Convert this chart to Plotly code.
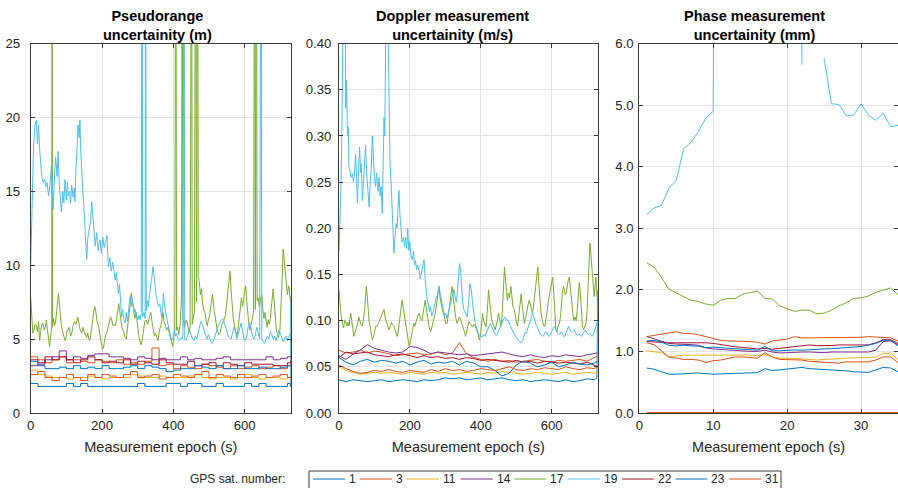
import plotly.graph_objects as go

# ---------------- data ----------------
SATS = ["1", "3", "11", "14", "17", "19", "22", "23", "31"]
SAT_COLORS = ["#0072BD", "#D95319", "#EDB120", "#7E2F8E", "#77AC30",
              "#4DBEEE", "#A2142F", "#0072BD", "#D95319"]

# common epoch grid (s) for the low, flat series
epoch_low = [0, 20, 40, 60, 80, 100, 120, 140, 160, 180, 200, 220, 240, 260, 280,
             300, 320, 340, 360, 380, 400, 420, 440, 460, 480, 500, 520, 540, 560,
             580, 600, 620, 640, 660, 680, 700, 720, 730]
epoch_s1 = [0, 20, 40, 60, 80, 100, 120, 140, 160, 180, 200, 220, 240, 260, 280,
            300, 320, 340, 360, 380, 400, 420, 440, 460, 480, 500, 520, 540, 560,
            580, 600, 620, 640, 660, 680, 700, 720, 728, 730]

# --- Pseudorange uncertainty (m) ---
pr_1 = [2.0, 1.8, 1.8, 1.8, 1.8, 2.0, 1.8, 2.0, 1.8, 1.8, 1.8, 1.8, 1.8, 1.8, 1.8, 2.0, 1.8, 1.8, 1.8,
        2.0, 2.0, 1.8, 2.0, 2.0, 1.8, 1.8, 2.0, 1.8, 1.8, 1.8, 2.0, 1.8, 2.0, 1.8, 1.8, 1.8, 2.0, 1.8, 7.9]
pr_3 = [3.8, 3.6, 3.4, 3.6, 3.8, 3.4, 3.6, 3.5, 3.4, 3.6, 3.5, 3.4, 3.6, 3.3, 3.4, 3.3, 3.5, 4.4, 3.2,
        3.3, 3.0, 3.2, 3.1, 3.0, 3.3, 3.2, 3.1, 3.0, 3.2, 3.0, 3.1, 3.2, 3.0, 3.1, 3.2, 3.0, 3.2, 3.4]
pr_11 = [2.9, 2.6, 2.5, 2.4, 2.4, 2.3, 2.4, 2.4, 2.5, 2.4, 2.3, 2.4, 2.4, 2.4, 2.6, 2.5, 2.4, 2.4, 2.5,
         2.4, 2.4, 2.4, 2.5, 2.6, 2.4, 2.3, 2.4, 2.4, 2.3, 2.4, 2.6, 2.4, 2.3, 2.4, 2.4, 2.3, 2.4, 2.5]
pr_14 = [3.2, 3.3, 3.6, 3.8, 4.2, 3.6, 3.8, 3.7, 3.9, 4.0, 4.0, 3.8, 3.8, 3.7, 3.6, 3.8, 3.7, 3.6, 3.7,
         3.6, 3.6, 3.8, 3.6, 3.7, 3.6, 3.6, 3.7, 3.8, 3.6, 3.6, 3.6, 3.6, 3.6, 3.8, 3.6, 3.7, 3.8, 3.8]
pr_22 = [3.6, 3.4, 3.8, 3.6, 3.8, 3.6, 3.4, 3.6, 3.8, 3.6, 3.4, 3.5, 3.4, 3.6, 3.3, 3.5, 3.4, 3.3, 3.6,
         3.4, 3.3, 3.3, 3.5, 3.2, 3.3, 3.4, 3.2, 3.4, 3.3, 3.2, 3.4, 3.3, 3.3, 3.3, 3.2, 3.2, 3.4, 3.6]
pr_23 = [3.5, 3.2, 3.0, 3.0, 3.1, 3.0, 3.2, 3.0, 3.1, 3.0, 3.2, 3.0, 3.0, 3.1, 3.2, 3.0, 3.2, 3.1, 3.0,
         2.8, 2.9, 3.0, 3.0, 3.2, 3.1, 3.0, 3.2, 3.0, 3.0, 3.2, 3.0, 3.0, 3.1, 3.0, 3.0, 3.1, 3.2, 3.2]
pr_31 = [2.6, 2.8, 2.4, 2.2, 2.4, 2.6, 2.4, 2.2, 2.6, 2.4, 2.6, 2.5, 2.4, 2.6, 2.8, 2.4, 2.5, 2.6, 2.3,
         2.4, 2.6, 2.5, 2.4, 2.6, 2.8, 2.4, 2.6, 2.5, 2.4, 2.6, 2.4, 2.5, 2.6, 2.4, 2.5, 2.6, 2.4, 2.5]

pr_17_t = [0, 3, 6, 9, 12, 16, 19, 22, 25, 28, 31, 34, 38, 41, 44, 47, 50, 53, 56, 59, 60, 61, 64, 67, 70,
           74, 78, 81, 84, 86, 90, 93, 96, 99, 102, 105, 108, 112, 115, 119, 123, 127, 132, 135, 139,
           143, 147, 150, 154, 157, 160, 163, 166, 170, 174, 177, 180, 183, 186, 190, 194, 198, 201,
           204, 207, 210, 213, 217, 221, 224, 227, 231, 234, 238, 241, 244, 247, 250, 253, 256, 259,
           262, 265, 268, 271, 274, 278, 282, 285, 288, 292, 296, 299, 302, 306, 310, 313, 317, 320,
           324, 328, 333, 337, 340, 343, 347, 350, 354, 357, 361, 364, 367, 371, 374, 378, 381, 385,
           389, 392, 395, 398, 401, 404, 407, 409, 412, 415, 419, 423, 425, 427, 431, 434, 437, 441,
           444, 447, 451, 453, 456, 459, 463, 465, 468, 470, 473, 476, 479, 482, 486, 489, 492, 495,
           498, 502, 506, 510, 514, 518, 521, 524, 528, 531, 535, 539, 542, 546, 550, 555, 559, 562,
           565, 568, 572, 575, 578, 581, 584, 588, 591, 594, 597, 600, 603, 606, 609, 612, 615, 618,
           622, 625, 628, 630, 633, 635, 638, 641, 644, 648, 651, 654, 657, 660, 663, 666, 669, 672,
           676, 680, 683, 686, 689, 692, 695, 699, 702, 705, 708, 711, 714, 717, 720, 723, 725, 727, 730]
pr_17 = [7.8, 6.5, 5.4, 5.6, 6.0, 5.9, 5.5, 6.2, 4.9, 5.5, 6.0, 6.1, 5.6, 5.8, 6.3, 5.6, 5.0, 4.5, 5.2,
         5.8, 40.0, 5.8, 6.4, 5.9, 6.2, 7.0, 8.1, 7.2, 6.3, 5.9, 5.5, 5.2, 4.9, 5.1, 5.6, 5.6, 5.8,
         5.2, 5.4, 5.9, 6.2, 6.0, 6.5, 6.1, 5.6, 5.4, 5.8, 5.5, 5.3, 5.1, 5.4, 5.0, 4.9, 5.5, 6.3,
         6.9, 7.2, 6.8, 6.2, 5.9, 5.3, 4.7, 4.3, 4.4, 4.8, 5.3, 5.4, 5.8, 6.1, 6.5, 6.3, 5.9, 6.0,
         5.9, 6.4, 7.0, 7.4, 6.8, 6.2, 5.8, 5.6, 5.3, 5.1, 5.0, 5.5, 6.3, 7.2, 8.1, 7.6, 7.0, 6.4,
         6.8, 6.0, 5.4, 4.9, 4.6, 5.0, 5.8, 6.2, 6.3, 6.0, 6.5, 6.8, 6.2, 5.6, 5.2, 5.4, 5.1, 4.9,
         5.6, 5.8, 6.1, 6.8, 6.2, 5.9, 5.6, 5.8, 5.4, 5.0, 4.8, 4.5, 5.0, 5.6, 40.0, 5.6, 5.8, 5.3,
         6.0, 7.8, 40.0, 6.4, 5.8, 6.2, 6.3, 5.9, 5.5, 5.8, 40.0, 6.0, 6.3, 6.8, 40.0, 7.5, 40.0,
         9.3, 8.8, 8.0, 8.4, 7.4, 6.9, 6.8, 6.2, 5.9, 6.3, 6.6, 7.4, 8.0, 7.0, 6.4, 5.8, 5.5, 5.3,
         5.4, 5.9, 6.1, 6.3, 6.6, 7.5, 8.8, 9.6, 8.3, 7.2, 6.4, 5.8, 5.5, 5.2, 5.6, 6.2, 7.0, 7.8,
         7.2, 7.6, 8.3, 8.6, 7.5, 6.6, 6.0, 5.6, 5.9, 6.4, 6.8, 40.0, 7.0, 40.0, 7.6, 7.8, 7.2, 7.6,
         8.0, 7.0, 6.4, 6.8, 6.2, 5.8, 6.3, 6.0, 6.4, 7.4, 8.4, 7.5, 6.4, 5.6, 5.3, 5.1, 5.6, 7.0,
         9.0, 11.1, 10.2, 9.4, 8.8, 8.0, 8.6, 8.4, 7.8, 7.6]

pr_19_t = [0, 4, 8, 12, 16, 19, 22, 25, 28, 31, 35, 39, 43, 46, 50, 54, 58, 61, 63, 67, 70, 74, 77, 80,
           83, 86, 90, 93, 96, 100, 103, 105, 109, 112, 115, 119, 122, 124, 127, 130, 133, 136, 138,
           140, 142, 146, 149, 152, 155, 157, 160, 164, 168, 171, 174, 177, 181, 185, 189, 192, 195,
           198, 202, 206, 210, 214, 216, 218, 222, 226, 230, 234, 237, 240, 243, 246, 249, 252, 255,
           258, 261, 265, 268, 271, 275, 279, 282, 284, 288, 291, 293, 297, 300, 304, 307, 310, 312,
           314, 318, 321, 322, 324, 327, 330, 333, 336, 340, 343, 346, 349, 352, 355, 358, 362, 365,
           367, 370, 372, 375, 378, 381, 385, 388, 391, 395, 399, 403, 406, 409, 413, 417, 421, 424,
           427, 430, 432, 435, 438, 442, 446, 450, 454, 458, 462, 466, 470, 474, 478, 482, 486, 490,
           494, 498, 502, 506, 510, 514, 518, 522, 526, 530, 534, 538, 542, 546, 550, 554, 558, 562,
           566, 570, 574, 578, 582, 586, 590, 594, 598, 602, 606, 610, 614, 618, 622, 626, 630, 634,
           638, 642, 646, 648, 652, 656, 660, 664, 668, 672, 676, 680, 684, 688, 692, 696, 700, 704,
           708, 712, 716, 720, 724, 728, 730]
pr_19 = [10.0, 14.0, 18.0, 19.5, 19.8, 18.2, 19.5, 17.9, 16.5, 16.0, 15.6, 15.8, 15.3, 15.6, 14.7,
         15.4, 16.7, 15.0, 13.8, 16.2, 17.3, 16.0, 17.7, 15.5, 14.5, 13.6, 15.0, 14.2, 15.8, 14.4,
         15.6, 14.7, 15.0, 14.2, 15.4, 14.6, 15.2, 14.3, 16.5, 18.5, 19.5, 18.6, 19.8, 18.0, 16.7,
         15.0, 14.0, 12.7, 11.5, 10.4, 11.8, 12.5, 13.0, 14.3, 13.2, 12.0, 11.3, 12.2, 11.0, 11.5,
         11.7, 10.8, 11.9, 11.2, 11.6, 12.0, 10.8, 9.9, 10.5, 9.6, 10.2, 9.3, 9.0, 9.5, 8.6, 8.1,
         8.7, 7.4, 6.5, 7.0, 6.3, 6.1, 6.8, 6.2, 7.0, 7.9, 7.2, 7.7, 7.3, 6.8, 7.0, 6.6, 6.3, 6.6,
         6.3, 6.8, 40.0, 6.5, 6.8, 6.4, 40.0, 6.9, 7.6, 7.2, 8.0, 8.6, 9.2, 9.9, 9.3, 8.4, 7.9, 7.6,
         7.2, 7.4, 6.8, 6.5, 7.2, 8.1, 7.4, 6.8, 6.5, 6.0, 5.6, 5.2, 4.9, 5.1, 5.6, 5.2, 5.4, 5.0,
         4.9, 5.1, 5.0, 5.2, 40.0, 5.0, 4.9, 5.1, 5.3, 5.6, 5.3, 5.0, 4.9, 5.2, 5.0, 5.5, 5.9, 6.2,
         6.0, 5.6, 5.2, 5.0, 5.3, 5.0, 4.8, 4.7, 5.0, 5.4, 5.7, 5.9, 6.1, 6.3, 6.4, 6.2, 5.8, 5.5,
         5.2, 5.1, 5.0, 5.4, 5.8, 5.6, 5.0, 5.3, 5.8, 6.1, 5.6, 5.0, 4.9, 5.2, 5.9, 6.1, 5.7, 5.2,
         5.0, 5.3, 5.8, 5.4, 5.0, 40.0, 5.0, 4.8, 4.7, 5.0, 5.2, 5.0, 5.5, 5.3, 5.0, 5.2, 4.9, 5.3,
         5.6, 5.4, 5.0, 4.8, 5.0, 5.2, 4.9, 5.1, 5.4, 5.2]

# --- Doppler measurement uncertainty (m/s) ---
dp_1 = [0.036, 0.034, 0.036, 0.035, 0.034, 0.035, 0.036, 0.034, 0.035, 0.036, 0.035, 0.034, 0.036,
        0.035, 0.036, 0.038, 0.037, 0.038, 0.036, 0.037, 0.038, 0.036, 0.037, 0.038, 0.036, 0.035,
        0.036, 0.034, 0.035, 0.036, 0.035, 0.034, 0.036, 0.034, 0.035, 0.037, 0.036, 0.038, 0.133]
dp_3 = [0.068, 0.065, 0.066, 0.068, 0.065, 0.067, 0.066, 0.064, 0.062, 0.063, 0.064, 0.065, 0.063,
        0.064, 0.066, 0.063, 0.065, 0.076, 0.064, 0.060, 0.058, 0.056, 0.058, 0.056, 0.057, 0.055,
        0.056, 0.057, 0.058, 0.056, 0.055, 0.057, 0.056, 0.057, 0.058, 0.056, 0.060, 0.062]
dp_11 = [0.050, 0.046, 0.044, 0.042, 0.043, 0.044, 0.043, 0.044, 0.043, 0.042, 0.044, 0.043, 0.042,
         0.044, 0.043, 0.044, 0.042, 0.043, 0.044, 0.043, 0.042, 0.044, 0.043, 0.045, 0.044, 0.043,
         0.042, 0.043, 0.044, 0.043, 0.042, 0.043, 0.044, 0.042, 0.043, 0.044, 0.043, 0.045]
dp_14 = [0.062, 0.058, 0.064, 0.068, 0.074, 0.070, 0.068, 0.066, 0.065, 0.066, 0.072, 0.071, 0.068,
         0.064, 0.066, 0.065, 0.064, 0.063, 0.064, 0.062, 0.063, 0.064, 0.065, 0.066, 0.064, 0.062,
         0.061, 0.063, 0.061, 0.060, 0.062, 0.061, 0.063, 0.062, 0.061, 0.063, 0.064, 0.065]
dp_22 = [0.060, 0.066, 0.064, 0.065, 0.066, 0.063, 0.062, 0.061, 0.063, 0.064, 0.062, 0.060, 0.062,
         0.060, 0.061, 0.059, 0.060, 0.058, 0.060, 0.059, 0.057, 0.058, 0.057, 0.056, 0.055, 0.057,
         0.055, 0.056, 0.054, 0.056, 0.055, 0.054, 0.055, 0.054, 0.053, 0.055, 0.052, 0.050]
dp_23 = [0.060, 0.055, 0.052, 0.056, 0.058, 0.055, 0.057, 0.056, 0.054, 0.056, 0.052, 0.055, 0.057,
         0.053, 0.055, 0.054, 0.056, 0.052, 0.056, 0.054, 0.050, 0.050, 0.046, 0.040, 0.043, 0.052,
         0.056, 0.054, 0.050, 0.052, 0.055, 0.050, 0.052, 0.055, 0.053, 0.052, 0.054, 0.056]
dp_31 = [0.052, 0.048, 0.045, 0.043, 0.044, 0.046, 0.045, 0.047, 0.045, 0.044, 0.046, 0.045, 0.044,
         0.047, 0.045, 0.048, 0.046, 0.047, 0.045, 0.046, 0.048, 0.047, 0.046, 0.048, 0.050, 0.047,
         0.046, 0.048, 0.047, 0.049, 0.048, 0.047, 0.050, 0.048, 0.047, 0.049, 0.048, 0.050]

dp_17_t = [0, 3, 6, 10, 13, 16, 19, 22, 25, 28, 31, 33, 36, 39, 42, 45, 48, 52, 56, 59, 62, 66, 69, 72,
           75, 77, 80, 82, 85, 88, 91, 94, 97, 100, 104, 108, 112, 116, 120, 124, 127, 130, 134, 138,
           141, 145, 148, 152, 155, 158, 161, 164, 167, 170, 174, 178, 181, 185, 189, 192, 195, 198,
           201, 204, 208, 211, 214, 218, 222, 226, 230, 234, 238, 241, 243, 246, 249, 252, 255, 259,
           262, 266, 269, 272, 275, 279, 282, 285, 288, 291, 295, 298, 301, 305, 308, 312, 316, 319,
           322, 325, 329, 333, 337, 340, 344, 347, 350, 354, 357, 361, 364, 367, 371, 374, 377, 380,
           384, 388, 392, 396, 399, 402, 405, 408, 411, 415, 418, 422, 425, 428, 431, 434, 438, 441,
           443, 447, 450, 453, 457, 460, 463, 465, 467, 469, 472, 475, 478, 481, 485, 488, 491, 495,
           498, 501, 504, 507, 510, 514, 517, 520, 523, 527, 530, 534, 537, 541, 546, 549, 553, 557,
           561, 564, 567, 570, 574, 578, 581, 584, 588, 591, 594, 598, 601, 603, 606, 609, 612, 615,
           618, 622, 625, 628, 631, 634, 638, 641, 644, 647, 650, 653, 656, 659, 662, 666, 669, 672,
           675, 678, 681, 684, 687, 690, 693, 697, 700, 703, 706, 708, 710, 713, 716, 718, 720, 722,
           725, 727, 730]
dp_17 = [0.133, 0.115, 0.105, 0.097, 0.092, 0.100, 0.099, 0.094, 0.098, 0.094, 0.100, 0.108, 0.100,
         0.092, 0.083, 0.087, 0.090, 0.095, 0.104, 0.100, 0.096, 0.094, 0.100, 0.110, 0.126, 0.137,
         0.125, 0.110, 0.099, 0.094, 0.087, 0.079, 0.082, 0.088, 0.094, 0.094, 0.098, 0.100, 0.104,
         0.108, 0.112, 0.104, 0.098, 0.092, 0.090, 0.094, 0.098, 0.095, 0.094, 0.090, 0.087, 0.083,
         0.088, 0.096, 0.110, 0.122, 0.115, 0.104, 0.094, 0.088, 0.080, 0.072, 0.076, 0.083, 0.092,
         0.097, 0.094, 0.100, 0.105, 0.108, 0.102, 0.100, 0.108, 0.116, 0.122, 0.114, 0.105, 0.096,
         0.092, 0.088, 0.094, 0.100, 0.104, 0.108, 0.118, 0.128, 0.137, 0.126, 0.116, 0.112, 0.108,
         0.100, 0.097, 0.097, 0.104, 0.116, 0.128, 0.137, 0.126, 0.114, 0.104, 0.097, 0.100, 0.104,
         0.100, 0.097, 0.094, 0.088, 0.083, 0.090, 0.097, 0.099, 0.096, 0.094, 0.093, 0.096, 0.094,
         0.090, 0.086, 0.079, 0.083, 0.094, 0.108, 0.100, 0.096, 0.093, 0.108, 0.133, 0.122, 0.108,
         0.100, 0.097, 0.094, 0.090, 0.094, 0.100, 0.108, 0.100, 0.094, 0.104, 0.130, 0.152, 0.158,
         0.148, 0.130, 0.122, 0.130, 0.125, 0.137, 0.125, 0.115, 0.112, 0.104, 0.097, 0.094, 0.104,
         0.118, 0.129, 0.116, 0.104, 0.097, 0.104, 0.112, 0.118, 0.122, 0.114, 0.108, 0.116, 0.130,
         0.148, 0.158, 0.140, 0.120, 0.108, 0.100, 0.094, 0.094, 0.100, 0.112, 0.122, 0.129, 0.140,
         0.147, 0.147, 0.130, 0.104, 0.090, 0.088, 0.094, 0.097, 0.104, 0.118, 0.133, 0.137, 0.128,
         0.129, 0.140, 0.144, 0.147, 0.134, 0.118, 0.108, 0.100, 0.104, 0.100, 0.110, 0.130, 0.141,
         0.130, 0.112, 0.094, 0.090, 0.094, 0.097, 0.110, 0.140, 0.170, 0.184, 0.175, 0.158, 0.145,
         0.140, 0.126, 0.135, 0.147, 0.130, 0.120]

dp_19_t = [0, 3, 5, 8, 10, 12, 14, 16, 18, 19, 21, 24, 26, 28, 31, 34, 38, 41, 44, 47, 50, 52, 55, 58,
           61, 63, 66, 69, 72, 75, 78, 81, 85, 88, 91, 94, 97, 100, 103, 106, 110, 113, 116, 119, 122,
           125, 127, 129, 131, 133, 135, 137, 139, 141, 144, 147, 150, 153, 155, 158, 161, 164, 167,
           169, 172, 175, 178, 182, 185, 188, 191, 194, 197, 200, 203, 207, 210, 213, 216, 219, 222,
           226, 229, 232, 236, 240, 243, 246, 249, 252, 255, 258, 262, 266, 270, 274, 278, 282, 286,
           290, 294, 298, 301, 305, 309, 313, 317, 321, 324, 328, 331, 334, 337, 340, 343, 346, 349,
           352, 356, 359, 362, 366, 369, 371, 374, 377, 380, 383, 386, 390, 393, 396, 400, 404, 408,
           412, 415, 419, 423, 427, 430, 434, 438, 441, 445, 449, 453, 457, 461, 465, 469, 473, 476,
           480, 484, 488, 492, 495, 499, 503, 507, 511, 514, 518, 521, 525, 528, 532, 536, 540, 543,
           546, 550, 553, 557, 561, 565, 568, 572, 575, 579, 583, 587, 590, 594, 597, 601, 605, 608,
           612, 616, 620, 623, 627, 631, 634, 638, 641, 645, 648, 652, 656, 659, 663, 666, 670, 674,
           677, 681, 685, 688, 692, 696, 699, 703, 707, 711, 714, 718, 722, 725, 728, 730]
dp_19 = [0.175, 0.210, 0.238, 0.300, 0.360, 0.450, 0.410, 0.470, 0.420, 0.330, 0.360, 0.300, 0.310,
         0.267, 0.262, 0.255, 0.259, 0.250, 0.262, 0.280, 0.250, 0.227, 0.260, 0.288, 0.260, 0.270,
         0.230, 0.250, 0.275, 0.290, 0.260, 0.245, 0.223, 0.250, 0.265, 0.300, 0.270, 0.255, 0.245,
         0.260, 0.240, 0.255, 0.235, 0.245, 0.216, 0.270, 0.320, 0.300, 0.380, 0.450, 0.410, 0.460,
         0.400, 0.310, 0.270, 0.250, 0.220, 0.190, 0.173, 0.190, 0.205, 0.200, 0.225, 0.241, 0.215,
         0.200, 0.185, 0.190, 0.180, 0.190, 0.178, 0.200, 0.176, 0.185, 0.170, 0.166, 0.175, 0.160,
         0.165, 0.155, 0.160, 0.154, 0.145, 0.150, 0.158, 0.166, 0.145, 0.130, 0.122, 0.118, 0.110,
         0.115, 0.105, 0.110, 0.118, 0.125, 0.128, 0.137, 0.128, 0.120, 0.110, 0.105, 0.108, 0.102,
         0.110, 0.118, 0.122, 0.128, 0.134, 0.125, 0.120, 0.130, 0.148, 0.162, 0.155, 0.135, 0.120,
         0.112, 0.108, 0.105, 0.104, 0.120, 0.140, 0.137, 0.132, 0.118, 0.105, 0.100, 0.095, 0.090,
         0.085, 0.083, 0.084, 0.082, 0.085, 0.083, 0.086, 0.090, 0.095, 0.097, 0.094, 0.090, 0.087,
         0.085, 0.084, 0.088, 0.092, 0.094, 0.098, 0.102, 0.104, 0.100, 0.101, 0.098, 0.094, 0.090,
         0.087, 0.085, 0.082, 0.080, 0.078, 0.077, 0.076, 0.078, 0.082, 0.087, 0.086, 0.090, 0.096,
         0.100, 0.104, 0.108, 0.104, 0.098, 0.094, 0.092, 0.088, 0.085, 0.084, 0.083, 0.085, 0.088,
         0.087, 0.084, 0.083, 0.086, 0.090, 0.092, 0.094, 0.090, 0.087, 0.085, 0.085, 0.088, 0.086,
         0.083, 0.083, 0.087, 0.090, 0.094, 0.090, 0.087, 0.088, 0.090, 0.088, 0.085, 0.084, 0.086,
         0.084, 0.083, 0.086, 0.088, 0.090, 0.087, 0.085, 0.086, 0.084, 0.083, 0.085, 0.090, 0.094,
         0.097, 0.100]

# --- Phase measurement uncertainty (mm) ---
epoch_phase = [1, 2, 3, 4, 5, 6, 7, 8, 9, 10, 11, 12, 13, 14, 15, 16, 17, 18, 19, 20, 21, 22, 23, 24,
               25, 26, 27, 28, 29, 30, 31, 32, 33, 34, 35]
ph_1 = [0.73, 0.71, 0.67, 0.63, 0.63, 0.64, 0.645, 0.65, 0.64, 0.63, 0.635, 0.64, 0.645, 0.65, 0.65,
        0.655, 0.72, 0.69, 0.70, 0.71, 0.72, 0.74, 0.72, 0.715, 0.71, 0.70, 0.695, 0.685, 0.67, 0.665,
        0.66, 0.70, 0.74, 0.73, 0.67]
ph_3 = [1.24, 1.26, 1.27, 1.30, 1.32, 1.29, 1.29, 1.27, 1.24, 1.20, 1.18, 1.17, 1.17, 1.16, 1.16,
        1.15, 1.12, 1.17, 1.18, 1.20, 1.24, 1.22, 1.22, 1.22, 1.22, 1.23, 1.23, 1.23, 1.22, 1.23,
        1.24, 1.23, 1.23, 1.22, 1.17]
ph_11 = [1.01, 1.00, 0.98, 0.91, 0.93, 0.94, 0.94, 0.94, 0.94, 0.95, 0.95, 0.94, 0.95, 0.94, 0.94,
         0.93, 0.95, 0.91, 0.89, 0.89, 0.89, 0.88, 0.87, 0.86, 0.87, 0.87, 0.88, 0.89, 0.90, 0.90,
         0.90, 0.91, 0.97, 0.97, 0.87]
ph_14 = [1.24, 1.20, 1.16, 1.13, 1.12, 1.12, 1.11, 1.10, 1.06, 1.04, 1.03, 1.025, 1.02, 1.01, 1.00,
         1.00, 1.02, 0.99, 0.975, 0.98, 0.99, 0.99, 0.99, 0.98, 0.98, 0.99, 0.99, 0.98, 0.98, 0.99,
         0.99, 1.02, 1.16, 1.17, 1.11]
ph_17 = [2.44, 2.37, 2.20, 2.01, 1.95, 1.89, 1.83, 1.81, 1.77, 1.75, 1.83, 1.86, 1.86, 1.93, 1.96,
         1.98, 1.86, 1.85, 1.74, 1.69, 1.65, 1.67, 1.67, 1.61, 1.62, 1.67, 1.74, 1.79, 1.86, 1.87,
         1.90, 1.96, 2.00, 2.03, 1.92]
ph_19 = [3.22, 3.33, 3.37, 3.65, 3.78, 4.29, 4.40, 4.57, 4.79, 4.90, 30.0, 30.0, 30.0, 30.0, 30.0,
         30.0, 30.0, 30.0, 30.0, 30.0, 30.0, 5.66, None, None, 5.76, 5.02, 5.01, 4.83, 4.84, 5.02,
         4.84, 4.75, 4.87, 4.65, 4.67]
ph_22 = [1.16, 1.15, 1.14, 1.14, 1.14, 1.14, 1.15, 1.15, 1.14, 1.13, 1.11, 1.085, 1.075, 1.065, 1.05,
         1.04, 1.05, 1.035, 1.05, 1.065, 1.075, 1.09, 1.105, 1.095, 1.09, 1.095, 1.105, 1.105, 1.105,
         1.115, 1.105, 1.14, 1.19, 1.19, 1.13]
ph_23 = [1.17, 1.18, 1.15, 1.10, 1.09, 1.10, 1.09, 1.085, 1.06, 1.07, 1.06, 1.05, 1.05, 1.04, 1.03,
         1.02, 1.08, 1.01, 1.01, 1.02, 1.025, 1.02, 1.03, 1.04, 1.04, 1.045, 1.05, 1.06, 1.07, 1.08,
         1.10, 1.13, 1.18, 1.18, 1.09]
ph_31 = [1.14, 1.11, 1.01, 0.91, 0.89, 0.87, 0.87, 0.86, 0.82, 0.85, 0.86, 0.88, 0.91, 0.91, 0.90,
         0.89, 0.98, 0.91, 0.87, 0.87, 0.87, 0.86, 0.84, 0.83, 0.83, 0.81, 0.81, 0.83, 0.83, 0.83,
         0.83, 0.86, 0.91, 0.91, 0.82]
ph_zero = [0.0, 0.0, 0.0, 0.0, 0.0, 0.0, 0.0, 0.0, 0.0, 0.0, 0.0, 0.0, 0.0, 0.0, 0.0, 0.0, 0.0, 0.0,
           0.0, 0.0, 0.0, 0.0, 0.0, 0.0, 0.0, 0.0, 0.0, 0.0, 0.0, 0.0, 0.0, 0.0, 0.0, 0.0, 0.0]

PANEL_TITLES = ["Pseudorange<br>uncertainity (m)",
                "Doppler measurement<br>uncertainity (m/s)",
                "Phase measurement<br>uncertainity (mm)"]
X_LABEL = "Measurement epoch (s)"
LEGEND_LABEL = "GPS sat. number:"

# ---------------- figure ----------------
W, H = 898, 488
FONT = "Liberation Sans, Arial, Helvetica, sans-serif"
color_of = dict(zip(SATS, SAT_COLORS))

pr = {"1": (epoch_s1, pr_1), "3": (epoch_low, pr_3), "11": (epoch_low, pr_11),
      "14": (epoch_low, pr_14), "17": (pr_17_t, pr_17), "19": (pr_19_t, pr_19),
      "22": (epoch_low, pr_22), "23": (epoch_low, pr_23), "31": (epoch_low, pr_31)}
dp = {"1": (epoch_s1, dp_1), "3": (epoch_low, dp_3), "11": (epoch_low, dp_11),
      "14": (epoch_low, dp_14), "17": (dp_17_t, dp_17), "19": (dp_19_t, dp_19),
      "22": (epoch_low, dp_22), "23": (epoch_low, dp_23), "31": (epoch_low, dp_31)}
ph = {"1": ph_1, "3": ph_3, "11": ph_11, "14": ph_14, "17": ph_17, "19": ph_19,
      "22": ph_22, "23": ph_23, "31": ph_31}

fig = go.Figure()
for s in SATS:
    x, y = pr[s]
    shape = "linear" if s in ("17", "19") else "hv"
    fig.add_trace(go.Scatter(x=x, y=y, mode="lines", name=s, legendgroup=s, showlegend=False,
                             line=dict(color=color_of[s], width=1, shape=shape),
                             xaxis="x", yaxis="y"))
for s in SATS:
    x, y = dp[s]
    fig.add_trace(go.Scatter(x=x, y=y, mode="lines", name=s, legendgroup=s, showlegend=False,
                             line=dict(color=color_of[s], width=1),
                             xaxis="x2", yaxis="y2"))
for s in SATS:
    fig.add_trace(go.Scatter(x=epoch_phase, y=ph[s], mode="lines", name=s, legendgroup=s,
                             showlegend=False, connectgaps=False,
                             line=dict(color=color_of[s], width=1),
                             xaxis="x3", yaxis="y3"))
fig.add_trace(go.Scatter(x=epoch_phase, y=ph_zero, mode="lines", name="31", legendgroup="31",
                         showlegend=False, line=dict(color=color_of["31"], width=2.2),
                         xaxis="x3", yaxis="y3", cliponaxis=False))

# geometry in pixels
ytop, ybot = 43.5, 413.0
panels_px = [(30.7, 291.0), (339.0, 597.7), (639.3, 898.0)]
ydom = [(H - ybot) / H, (H - ytop) / H]

axis_common = dict(showline=True, linecolor="#3a3a3a", linewidth=1, mirror="allticks",
                   ticks="inside", ticklen=4, tickcolor="#3a3a3a", showgrid=True,
                   gridcolor="#e4e4e4", gridwidth=1, zeroline=False,
                   tickfont=dict(size=13.2, color="#262626", family=FONT))

x_ranges = [[0, 730], [0, 730], [0, 35]]
x_ticks = [[0, 200, 400, 600], [0, 200, 400, 600], [0, 10, 20, 30]]
y_ranges = [[0, 25], [0, 0.40], [0, 6.0]]
y_ticks = [[0, 5, 10, 15, 20, 25],
           [0, 0.05, 0.10, 0.15, 0.20, 0.25, 0.30, 0.35, 0.40],
           [0, 1, 2, 3, 4, 5, 6]]
y_fmt = ["d", ".2f", ".1f"]
y_standoff = [7, 4, 2]

layout = dict(width=W, height=H, margin=dict(l=0, r=0, t=0, b=0, autoexpand=False),
              paper_bgcolor="white", plot_bgcolor="white", showlegend=False,
              font=dict(family=FONT, color="#262626"))
for i in range(3):
    sx = "" if i == 0 else str(i + 1)
    l, r = panels_px[i]
    layout["xaxis" + sx] = dict(axis_common, domain=[l / W, min(r / W, 1.0)], range=x_ranges[i],
                                tickvals=x_ticks[i], anchor="y" + sx,
                                title=dict(text=X_LABEL, standoff=10,
                                           font=dict(size=14.5, color="#262626")))
    layout["yaxis" + sx] = dict(axis_common, domain=ydom, range=y_ranges[i], tickvals=y_ticks[i],
                                tickformat=y_fmt[i], anchor="x" + sx,
                                ticklabelstandoff=y_standoff[i])
fig.update_layout(**layout)

title_cx = [157, 452, 754]
for i in range(3):
    fig.add_annotation(text="<b>" + PANEL_TITLES[i] + "</b>", x=title_cx[i] / W, y=(H - 45) / H,
                       xref="paper", yref="paper", xanchor="center", yanchor="bottom",
                       showarrow=False, font=dict(size=14.5, color="#000000", family=FONT))

# ---- legend (frame, colour samples and labels), laid out in pixels ----
LEG_Y = 479.0
fig.add_annotation(text=LEGEND_LABEL, x=287 / W, y=(H - LEG_Y) / H, xref="paper", yref="paper",
                   xanchor="right", yanchor="middle", showarrow=False,
                   font=dict(size=12, color="#262626", family=FONT))
box_l, box_r, box_t = 309.0, 781.0, 471.0
fig.add_shape(type="rect", xref="paper", yref="paper", x0=box_l / W, x1=box_r / W,
              y0=(H - box_t) / H, y1=-0.08, line=dict(color="#3a3a3a", width=1),
              fillcolor="white", layer="below")
sample_len, text_gap, item_gap, digit_w = 32.0, 3.0, 5.3, 6.7
cursor = box_l + 4.0
for s in SATS:
    fig.add_shape(type="line", xref="paper", yref="paper", x0=cursor / W,
                  x1=(cursor + sample_len) / W, y0=(H - LEG_Y) / H, y1=(H - LEG_Y) / H,
                  line=dict(color=color_of[s], width=1))
    tx = cursor + sample_len + text_gap
    fig.add_annotation(text=s, x=tx / W, y=(H - LEG_Y) / H, xref="paper", yref="paper",
                       xanchor="left", yanchor="middle", showarrow=False, borderpad=0,
                       font=dict(size=12, color="#262626", family=FONT))
    cursor = tx + digit_w * len(s) + item_gap

fig.write_html("out.html")
